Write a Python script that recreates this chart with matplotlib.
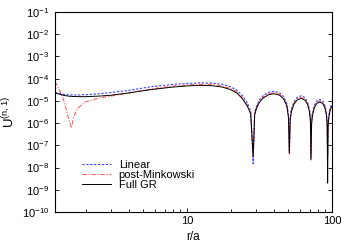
import numpy as np
import matplotlib
matplotlib.use("Agg")
import matplotlib.pyplot as plt
from matplotlib.ticker import LogLocator, NullLocator, NullFormatter, FuncFormatter

plt.rcParams['font.family'] = ['Liberation Sans', 'DejaVu Sans']
plt.rcParams['mathtext.fontset'] = 'custom'
plt.rcParams['mathtext.rm'] = 'Liberation Sans'
plt.rcParams['mathtext.it'] = 'Liberation Sans:italic'
plt.rcParams['mathtext.default'] = 'regular'

# radius r/a (shared sampling for all three curves)
r = [1.23, 1.3, 1.4, 1.45, 1.5, 1.55, 1.6, 1.65, 1.75, 2.0,
     2.5, 3.0, 4.0, 5.6, 8.0, 10.5, 12.5, 15.0, 17.5, 20.0, 22.0, 24.0, 26.0, 27.5,
     28.6, 29.3, 30.2, 31.5, 33.5, 36.5, 40.0, 43.5, 46.5, 48.8, 50.1, 50.8,
     51.5, 52.5, 54.5, 57.5, 61.2, 65.0, 68.0, 70.0, 71.0, 71.6,
     72.3, 73.3, 75.5, 78.5, 82.4, 86.5, 89.5, 91.5, 92.6, 93.3,
     94.0, 95.0, 97.0, 100.0]

u_linear = [2.4e-5, 2.2e-5, 2.0e-5, 1.95e-5, 1.9e-5, 1.87e-5, 1.85e-5, 1.84e-5, 1.84e-5, 1.9e-5,
            2.1e-5, 2.4e-5, 3.0e-5, 4.3e-5, 5.5e-5, 6.2e-5, 6.5e-5, 6.3e-5, 5.6e-5, 4.3e-5, 3.1e-5, 1.8e-5, 8.5e-6, 3.6e-6,
            1.5e-8, 3.1e-6, 6e-6, 1.08e-5, 1.72e-5, 2.43e-5, 2.7e-5, 2.3e-5, 1.54e-5, 7.6e-6, 2.3e-6, 5e-8,
            1.8e-6, 4.3e-6, 9e-6, 1.43e-5, 1.7e-5, 1.42e-5, 8.7e-6, 4e-6, 1.6e-6, 4e-8,
            1.2e-6, 2.9e-6, 6.4e-6, 1.0e-5, 1.17e-5, 9.8e-6, 6.1e-6, 3e-6, 1.2e-6, 4e-8,
            9e-7, 2.2e-6, 4.8e-6, 7.5e-6]

u_pm = [7.5e-5, 3.8e-5, 1.3e-5, 6e-6, 2.5e-6, 1.1e-6, 6e-7, 1.8e-6, 4.5e-6, 9e-6,
        1.35e-5, 1.65e-5, 2.3e-5, 3.4e-5, 4.6e-5, 5.3e-5, 5.6e-5, 5.4e-5, 4.7e-5, 3.6e-5, 2.6e-5, 1.45e-5, 6.8e-6, 2.9e-6,
        3e-8, 2.7e-6, 5.3e-6, 9.4e-6, 1.5e-5, 2.1e-5, 2.35e-5, 2.0e-5, 1.35e-5, 6.6e-6, 2e-6, 4e-8,
        1.6e-6, 3.7e-6, 7.7e-6, 1.23e-5, 1.45e-5, 1.22e-5, 7.5e-6, 3.5e-6, 1.35e-6, 2.5e-8,
        1.0e-6, 2.5e-6, 5.5e-6, 8.6e-6, 1.0e-5, 8.4e-6, 5.3e-6, 2.6e-6, 1.0e-6, 2.8e-8,
        8e-7, 1.9e-6, 4.1e-6, 6.5e-6]

u_gr = [2.3e-5, 2.05e-5, 1.8e-5, 1.72e-5, 1.66e-5, 1.62e-5, 1.6e-5, 1.58e-5, 1.56e-5, 1.55e-5,
        1.65e-5, 1.8e-5, 2.3e-5, 3.2e-5, 4.2e-5, 4.8e-5, 5.0e-5, 4.8e-5, 4.2e-5, 3.2e-5, 2.3e-5, 1.3e-5, 6e-6, 2.6e-6,
        3e-8, 2.4e-6, 4.7e-6, 8.4e-6, 1.34e-5, 1.9e-5, 2.1e-5, 1.8e-5, 1.2e-5, 5.9e-6, 1.8e-6, 4.5e-8,
        1.4e-6, 3.3e-6, 6.9e-6, 1.1e-5, 1.3e-5, 1.09e-5, 6.7e-6, 3.1e-6, 1.2e-6, 2.2e-8,
        9e-7, 2.2e-6, 4.9e-6, 7.7e-6, 9e-6, 7.5e-6, 4.7e-6, 2.3e-6, 9e-7, 2e-9,
        7e-7, 1.7e-6, 3.7e-6, 5.8e-6]

fig = plt.figure(figsize=(3.5, 2.45), dpi=100)
ax = fig.add_axes([55 / 350, 1 - 212 / 245, 277 / 350, 200 / 245])

ax.plot(r, u_linear, color='#3b3bff', lw=0.8, dashes=(2, 1.5), label='Linear')
ax.plot(r, u_pm, color='#ff6060', lw=0.8, dashes=(4, 1.5, 1, 1.5), label='post-Minkowski')
ax.plot(r, u_gr, color='black', lw=0.7, label='Full GR')

ax.set_xscale('log')
ax.set_yscale('log')
ax.set_xlim(1.23, 100)
ax.set_ylim(1e-10, 1e-1)

ax.yaxis.set_major_locator(LogLocator(base=10, numticks=20))
ax.yaxis.set_minor_locator(NullLocator())
ax.xaxis.set_major_formatter(FuncFormatter(lambda v, _: f'{v:g}'))
ax.xaxis.set_minor_locator(LogLocator(base=10, subs=np.arange(2, 10), numticks=20))
ax.xaxis.set_minor_formatter(NullFormatter())

ax.tick_params(which='both', direction='in', right=True, top=False, labelsize=8, width=0.6)
ax.tick_params(which='major', length=3)
ax.tick_params(which='minor', length=2)
ax.tick_params(axis='y', pad=4)
ax.tick_params(axis='x', pad=3)
for s in ax.spines.values():
    s.set_linewidth(0.8)

ax.set_xlabel('r/a', fontsize=8.5)
ax.xaxis.set_label_coords(0.5, -0.125)
ax.xaxis.label.set_va('center')
ax.set_ylabel('U$^{(n,1)}$', fontsize=9.5)
ax.yaxis.set_label_coords(-0.165, 0.5)
ax.yaxis.label.set_va('center')

ax.legend(loc='upper left', bbox_to_anchor=(0.0975, 0.26), frameon=False, fontsize=8,
          handlelength=2.6, handletextpad=0.7, labelspacing=0.0, borderpad=0, borderaxespad=0)

fig.savefig('out.png', dpi=100)
